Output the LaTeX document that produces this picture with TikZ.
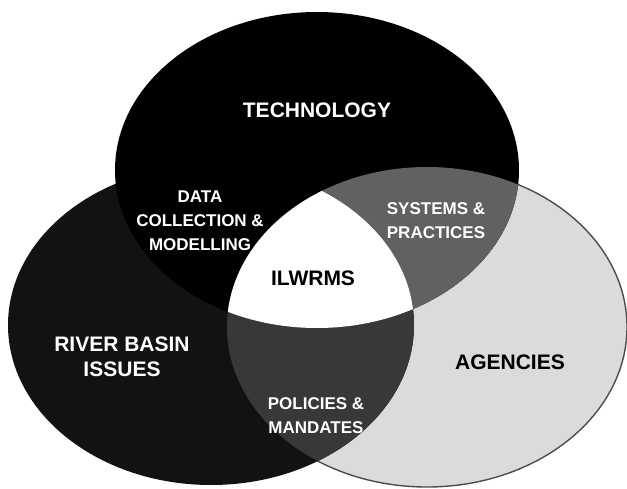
\documentclass[tikz,border=0pt]{standalone}
\usepackage{fontspec}
\setmainfont{Liberation Sans}
\usepackage{tikz}

\newcommand{\techpath}{(317,170) ellipse [x radius=202, y radius=158]}
\newcommand{\riverpath}{(211,325) ellipse [x radius=203, y radius=160]}
\newcommand{\agencypath}{(427,327) ellipse [x radius=200, y radius=160]}

\tikzset{
    biglabel/.style={font=\bfseries\fontsize{21}{25}\selectfont, align=center},
    smalllabel/.style={font=\bfseries\fontsize{17}{24}\selectfont, align=center},
}

\begin{document}
\begin{tikzpicture}[x=1pt, y=-1pt]
    \useasboundingbox (0,0) rectangle (627,488);

    % the three sets
    \fill[black!14, draw=black!70, line width=1.4pt] \agencypath;
    \fill[black!93] \riverpath;
    \fill[black] \techpath;

    % overlaps
    \begin{scope}
        \clip \techpath;
        \fill[black!62] \agencypath;
    \end{scope}
    \begin{scope}
        \clip \riverpath;
        \fill[black!78] \agencypath;
    \end{scope}
    \begin{scope}
        \clip \techpath;
        \clip \riverpath;
        \fill[white] \agencypath;
    \end{scope}

    % labels
    \node[biglabel, text=white] at (317,110) (tech)     {TECHNOLOGY};
    \node[biglabel, text=white] at (122,357) (river)    {RIVER BASIN\\ISSUES};
    \node[biglabel, text=black] at (510,362) (agencies) {AGENCIES};
    \node[biglabel, text=black] at (313,278) (ilwrms)   {ILWRMS};

    \node[smalllabel, text=white] at (200,221) (data)     {DATA\\COLLECTION \&\\MODELLING};
    \node[smalllabel, text=white] at (436,221) (systems)  {SYSTEMS \&\\PRACTICES};
    \node[smalllabel, text=white] at (316,416) (policies) {POLICIES \&\\MANDATES};
\end{tikzpicture}
\end{document}
